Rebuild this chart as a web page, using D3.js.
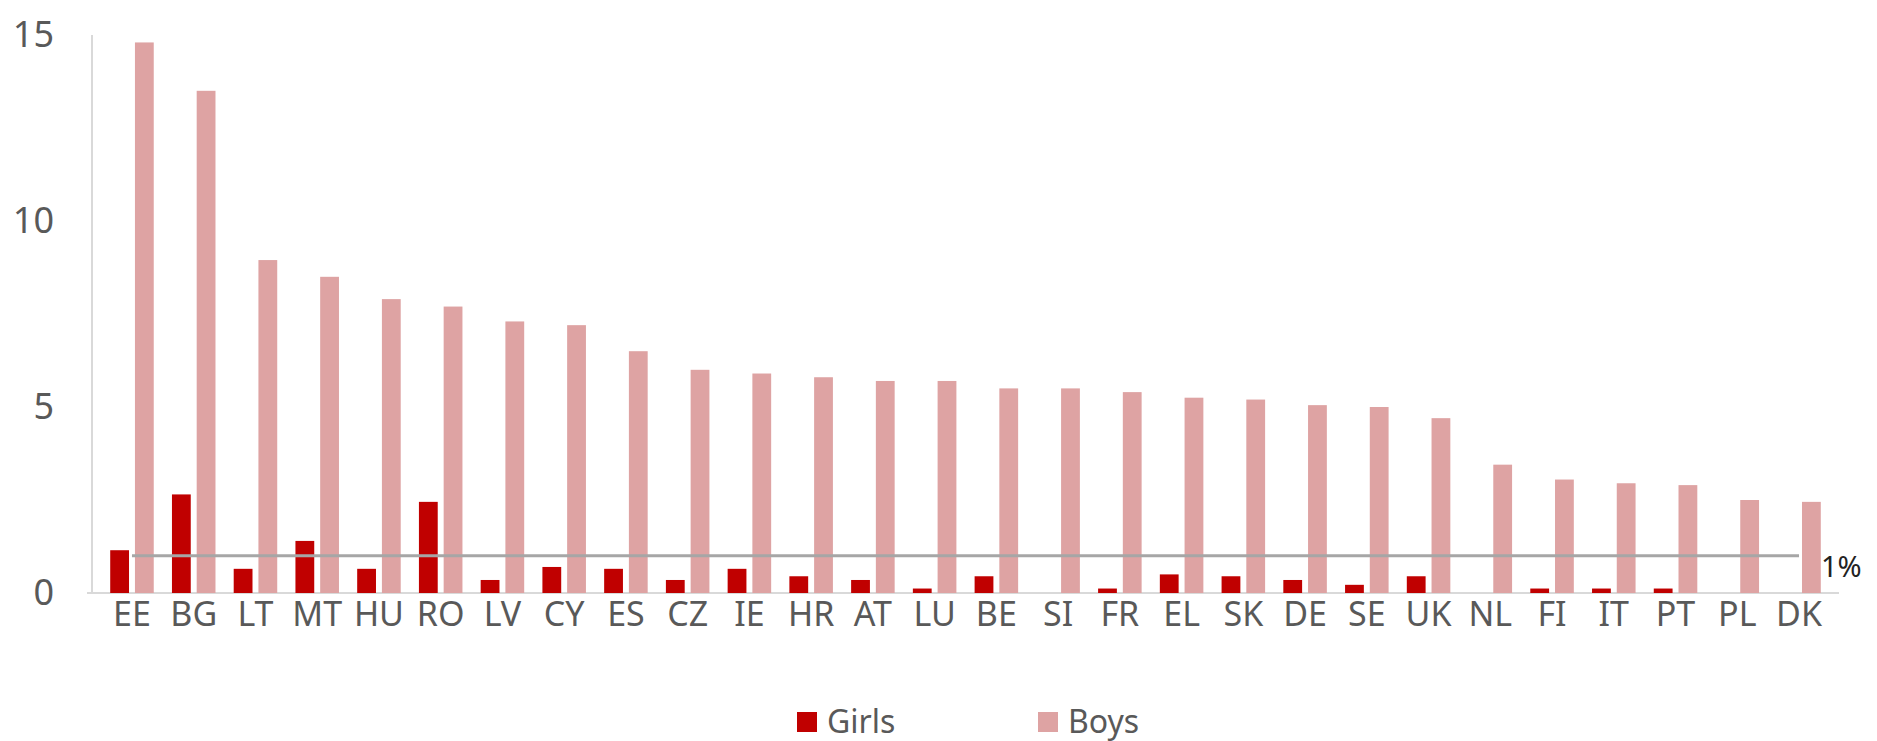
<!DOCTYPE html>
<html>
<head>
<meta charset="utf-8">
<script src="https://cdn.jsdelivr.net/npm/d3@7"></script>
<style>
  html, body { margin: 0; padding: 0; background: #fff; }
  svg { display: block; font-family: "Noto Sans", "Open Sans", sans-serif; }
</style>
</head>
<body>
<div id="chart"></div>
<script>
const countries = ['EE', 'BG', 'LT', 'MT', 'HU', 'RO', 'LV', 'CY', 'ES', 'CZ', 'IE', 'HR', 'AT', 'LU',
  'BE', 'SI', 'FR', 'EL', 'SK', 'DE', 'SE', 'UK', 'NL', 'FI', 'IT', 'PT', 'PL', 'DK'];
const girls = [1.15, 2.65, 0.65, 1.4, 0.65, 2.45, 0.35, 0.7, 0.65, 0.35, 0.65, 0.45, 0.35, 0.12,
  0.45, 0, 0.12, 0.5, 0.45, 0.35, 0.22, 0.45, 0, 0.12, 0.12, 0.12, 0, 0];
const boys = [14.8, 13.5, 8.95, 8.5, 7.9, 7.7, 7.3, 7.2, 6.5, 6.0, 5.9, 5.8, 5.7, 5.7,
  5.5, 5.5, 5.4, 5.25, 5.2, 5.05, 5.0, 4.7, 3.45, 3.05, 2.95, 2.9, 2.5, 2.45];
const threshold = 1;
const yTicks = [0, 5, 10, 15];
const seriesNames = ['Girls', 'Boys'];
const seriesColors = ['#c00000', '#dea3a3'];

const W = 1877, H = 741;
const margin = { top: 35, right: 38, bottom: 148, left: 92 };
const width = W - margin.left - margin.right;
const height = H - margin.top - margin.bottom;

const svg = d3.select('#chart')
  .append('svg')
  .attr('width', W)
  .attr('height', H);

const g = svg.append('g')
  .attr('transform', `translate(${margin.left},${margin.top})`);

// Scales
const x = d3.scaleBand()
  .domain(countries)
  .range([0, width])
  .padding(0.295);

const x1 = d3.scaleBand()
  .domain(seriesNames)
  .range([0, x.bandwidth()])
  .paddingInner(0.24);

const y = d3.scaleLinear()
  .domain([0, 15])
  .range([height, 0]);

// Axis lines
g.append('line')
  .attr('x1', 0).attr('x2', 0)
  .attr('y1', 0).attr('y2', height)
  .attr('stroke', '#d9d9d9')
  .attr('stroke-width', 2);

g.append('line')
  .attr('x1', -5).attr('x2', width)
  .attr('y1', height).attr('y2', height)
  .attr('stroke', '#d9d9d9')
  .attr('stroke-width', 2);

// Y tick labels
const yAxis = g.append('g')
  .call(d3.axisLeft(y).tickValues(yTicks).tickSize(0).tickPadding(38));
yAxis.select('.domain').remove();
yAxis.selectAll('text')
  .attr('fill', '#595959')
  .style('font-size', '36px')
  .style('font-family', '"Noto Sans", sans-serif');

// X tick labels
const xAxis = g.append('g')
  .attr('transform', `translate(0,${height})`)
  .call(d3.axisBottom(x).tickSize(0).tickPadding(9));
xAxis.select('.domain').remove();
xAxis.selectAll('text')
  .attr('fill', '#595959')
  .style('font-size', '34px')
  .style('font-family', '"Noto Sans", sans-serif');

// Bars
const rows = countries.map((c, i) => ({ country: c, values: [girls[i], boys[i]] }));

const groups = g.selectAll('.grp')
  .data(rows)
  .join('g')
  .attr('class', 'grp')
  .attr('transform', d => `translate(${x(d.country)},0)`);

groups.selectAll('rect')
  .data(d => d.values.map((v, k) => ({ key: seriesNames[k], value: v, k })))
  .join('rect')
  .attr('x', d => x1(d.key))
  .attr('width', x1.bandwidth())
  .attr('y', d => y(d.value))
  .attr('height', d => height - y(d.value))
  .attr('fill', d => seriesColors[d.k]);

// 1% line across category centres
const line = d3.line()
  .x(d => x(d) + x.bandwidth() / 2)
  .y(() => y(threshold));

g.append('path')
  .datum(countries)
  .attr('d', line)
  .attr('fill', 'none')
  .attr('stroke', '#a6a6a6')
  .attr('stroke-width', 3);

g.append('text')
  .attr('x', x(countries[countries.length - 1]) + x.bandwidth() / 2 + 22)
  .attr('y', y(threshold) + 21)
  .attr('fill', '#222')
  .style('font-size', '29px')
  .text('1%');

// Legend
const legend = svg.append('g')
  .attr('transform', `translate(797,712)`);

const items = legend.selectAll('g')
  .data(seriesNames)
  .join('g')
  .attr('transform', (d, i) => `translate(${i * 241},0)`);

items.append('rect')
  .attr('width', 20)
  .attr('height', 20)
  .attr('fill', (d, i) => seriesColors[i]);

items.append('text')
  .attr('x', 30)
  .attr('y', 21)
  .attr('fill', '#595959')
  .style('font-size', '32px')
  .text(d => d);
</script>
</body>
</html>
